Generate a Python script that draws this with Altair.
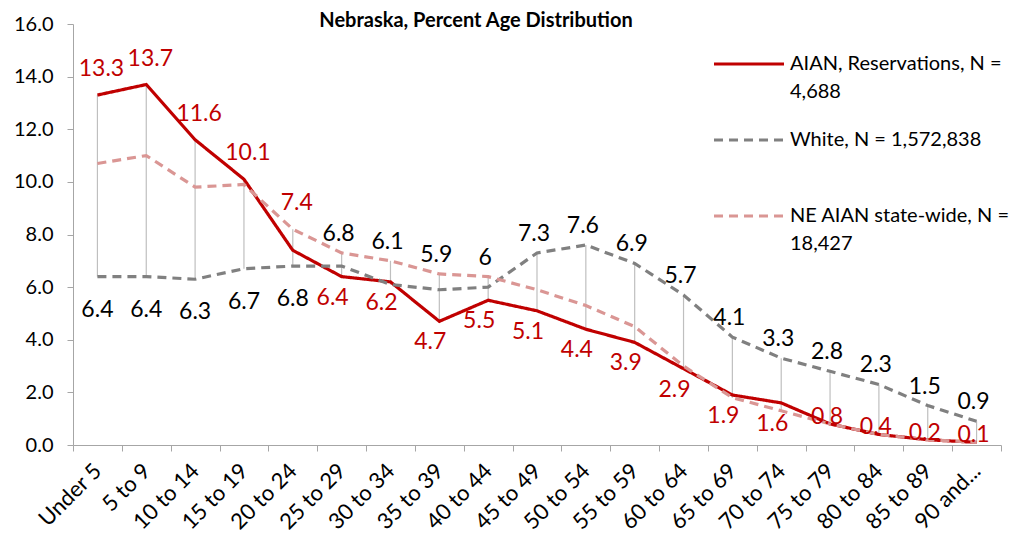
import altair as alt
import pandas as pd

ages = ["Under 5", "5 to 9", "10 to 14", "15 to 19", "20 to 24", "25 to 29",
        "30 to 34", "35 to 39", "40 to 44", "45 to 49", "50 to 54", "55 to 59",
        "60 to 64", "65 to 69", "70 to 74", "75 to 79", "80 to 84", "85 to 89",
        "90 and..."]
aian_res = [13.3, 13.7, 11.6, 10.1, 7.4, 6.4, 6.2, 4.7, 5.5, 5.1, 4.4, 3.9,
            2.9, 1.9, 1.6, 0.8, 0.4, 0.2, 0.1]
white = [6.4, 6.4, 6.3, 6.7, 6.8, 6.8, 6.1, 5.9, 6.0, 7.3, 7.6, 6.9,
         5.7, 4.1, 3.3, 2.8, 2.3, 1.5, 0.9]
ne_aian = [10.7, 11.0, 9.8, 9.9, 8.2, 7.3, 7.0, 6.5, 6.4, 5.9, 5.3, 4.5,
           3.0, 1.8, 1.3, 0.8, 0.4, 0.2, 0.1]
series_names = ["AIAN, Reservations, N = 4,688",
                "White, N = 1,572,838",
                "NE AIAN state-wide, N = 18,427"]
y_ticks = [0, 2, 4, 6, 8, 10, 12, 14, 16]

FONT = "Lato"
RED = "#C00000"
GREY = "#808080"
PINK = "#DA9694"

wide = pd.DataFrame({"age": ages, "aian": aian_res, "white": white, "ne": ne_aian})
long = pd.concat([
    pd.DataFrame({"age": ages, "series": series_names[0], "value": aian_res, "order": 0}),
    pd.DataFrame({"age": ages, "series": series_names[1], "value": white, "order": 1}),
    pd.DataFrame({"age": ages, "series": series_names[2], "value": ne_aian, "order": 2}),
], ignore_index=True)

x_enc = alt.X("age:N", sort=ages, title=None,
              scale=alt.Scale(type="band", paddingInner=0, paddingOuter=0),
              axis=alt.Axis(labelAngle=-45, labelAlign="right", labelBaseline="middle",
                            labelPadding=16, tickBand="extent", tickSize=6,
                            labelFontSize=22, labelFont=FONT, labelColor="#000000",
                            domainColor="#A6A6A6", tickColor="#A6A6A6", grid=False))
y_scale = alt.Scale(domain=[0, 16], nice=False)
y_axis = alt.Axis(values=y_ticks, format=".1f", tickSize=6, labelPadding=14,
                  labelFontSize=20, labelFont=FONT, labelColor="#000000",
                  domainColor="#A6A6A6", tickColor="#A6A6A6", grid=False, title=None)

base_long = alt.Chart(long)

hilo = base_long.mark_rule(color="#BFBFBF", strokeWidth=1.2).encode(
    x=x_enc,
    y=alt.Y("min(value):Q", scale=y_scale, axis=y_axis),
    y2=alt.Y2("max(value):Q"),
)

label_expr = ("length(datum.label) > 24 ? "
              "[slice(datum.label, 0, lastindexof(datum.label, ' ')), "
              "slice(datum.label, lastindexof(datum.label, ' ') + 1)] : [datum.label, ' ']")

legend = alt.Legend(orient="none", legendX=639, legendY=3, title=None,
                    symbolType="stroke", symbolSize=4900,
                    symbolStrokeWidth=3.2, labelFontSize=20,
                    labelFont=FONT, labelColor="#000000",
                    labelLimit=400, labelOffset=4, rowPadding=1,
                    labelExpr=label_expr, padding=0)

lines = base_long.mark_line(strokeWidth=3.2).encode(
    x=x_enc,
    y=alt.Y("value:Q", scale=y_scale, axis=y_axis),
    color=alt.Color("series:N", sort=series_names,
                    scale=alt.Scale(domain=series_names, range=[RED, GREY, PINK]),
                    legend=legend),
    strokeDash=alt.StrokeDash("series:N", sort=series_names,
                              scale=alt.Scale(domain=series_names,
                                              range=[[1, 0], [9, 6], [9, 6]]),
                              legend=legend),
    order=alt.Order("order:Q"),
    detail="series:N",
)

base_wide = alt.Chart(wide).transform_calculate(
    top_aian="max(datum.aian, datum.ne)",
    top_white="max(datum.white, datum.ne)",
)
txt = dict(fontSize=23, font=FONT)

def lab(field, ypos, color, cond, dy, dx=0):
    return base_wide.transform_filter(cond).mark_text(
        color=color, dy=dy, dx=dx, **txt).encode(
        x=x_enc,
        y=alt.Y(f"{ypos}:Q", scale=y_scale, axis=y_axis),
        text=alt.Text(f"{field}:Q", format="~g"),
    )

gap = "datum.aian - datum.white > 0.5"
labels = [
    lab("aian", "top_aian", RED, gap, -26, 4),
    lab("aian", "aian", RED, f"!({gap}) && datum.aian >= 1.5", 21, -9),
    lab("aian", "aian", RED, "datum.aian < 1.5", -7, -3),
    lab("white", "white", "#000000", gap, 33, 0),
    lab("white", "top_white", "#000000", f"!({gap})", -19, -3),
]

chart = alt.layer(hilo, lines, *labels).properties(
    width=928, height=421,
    title=alt.TitleParams("Nebraska, Percent Age Distribution", font=FONT,
                          fontSize=20, fontWeight="bold", color="#000000",
                          anchor="middle", dx=-61, dy=17, frame="group", offset=0),
    autosize=alt.AutoSizeParams(type="none"),
    padding={"left": 65, "top": 16, "right": 17, "bottom": 96},
).configure(
    background="white",
    view=alt.ViewConfig(stroke=None),
    style={"guide-label": {"lineHeight": 28}},
)

chart.save("out.html", embed_options={"renderer": "svg", "actions": False})
